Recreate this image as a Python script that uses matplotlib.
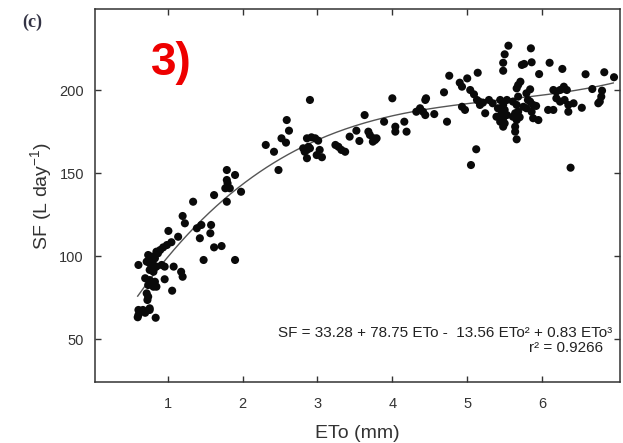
"""Sap flow vs reference evapotranspiration, panel (c)."""

import matplotlib

matplotlib.use("Agg")

import matplotlib.pyplot as plt
import numpy as np

eto_low = [
    1.79, 1.90, 1.79, 1.80, 1.77, 1.83, 1.98, 1.62, 1.79, 1.34, 1.20, 1.23, 1.39, 1.45,
    1.58, 1.57, 1.01, 1.14, 1.43, 1.05, 0.99, 0.94, 0.90, 0.85, 0.87, 0.74, 0.79, 0.83,
    1.62, 1.72, 0.61, 0.72, 0.76, 0.81, 0.85, 0.92, 0.96, 1.08, 1.48, 1.90, 0.76, 0.81,
    1.18, 1.20, 0.96, 0.70, 0.76, 0.83, 0.74, 0.81, 0.85, 1.06, 0.72, 0.74, 0.73, 0.61,
    0.67, 0.76, 0.61, 0.70, 0.76, 0.84, 0.60,
]
sf_low = [
    151.8, 148.8, 145.8, 143.8, 140.8, 140.8, 138.7, 136.7, 132.7, 132.7, 124.1, 119.7,
    116.7, 118.7, 118.7, 113.7, 115.1, 111.6, 110.7, 108.3, 106.6, 105.2, 103.6, 102.6,
    101.6, 100.6, 99.6, 98.6, 105.2, 106.0, 94.6, 96.6, 95.6, 94.6, 93.6, 94.6, 93.6,
    93.6, 97.6, 97.6, 91.6, 90.5, 90.5, 87.5, 86.0, 86.6, 85.5, 84.5, 82.5, 81.5, 81.5,
    79.1, 77.5, 75.5, 73.5, 67.5, 67.5, 67.5, 64.5, 65.8, 68.5, 62.8, 63.1,
]
eto_mid = [
    2.48, 2.31, 2.42, 2.59, 2.62, 2.52, 2.58, 2.90, 2.81, 2.86, 2.90, 2.83, 2.88, 2.86,
    2.92, 2.97, 3.01, 3.03, 2.99, 3.06, 2.86, 3.24, 3.28, 3.32, 3.37, 3.43, 3.52, 3.56,
    3.63, 3.68, 3.70, 3.75, 3.77, 3.79, 3.74, 3.89, 4.04, 4.04, 4.00,
]
sf_mid = [
    151.8, 166.9, 162.8, 181.9, 175.5, 170.9, 168.3, 194.0, 164.9, 163.9, 164.9, 162.8,
    165.8, 170.9, 171.5, 170.9, 169.5, 163.9, 160.8, 159.5, 158.9, 166.9, 165.8, 163.9,
    162.8, 171.9, 175.5, 169.3, 184.9, 174.9, 172.9, 170.9, 169.9, 170.9, 168.9, 180.9,
    177.9, 174.9, 195.0,
]
eto_high = [
    5.55, 5.50, 5.48, 5.48, 5.85, 5.86, 5.73, 5.76, 6.10, 6.27, 5.96, 6.58, 6.83, 6.96,
    4.76, 5.14, 5.00, 4.90, 4.93, 4.69, 5.04, 5.09, 5.13, 5.16, 5.68, 5.71, 5.66, 5.84,
    5.79, 5.81, 5.84, 6.15, 6.19, 6.24, 6.29, 6.33, 6.67, 6.80, 6.79, 6.77, 5.29, 5.34,
    5.17, 5.21, 5.44, 5.53, 5.48, 5.41, 5.50, 5.46, 5.53, 5.39, 5.48, 5.44, 5.50, 5.48,
    5.61, 5.66, 5.68, 5.64, 5.61, 5.70, 5.66, 5.64, 5.75, 5.79, 5.88, 5.92, 5.86, 5.88,
    5.95, 6.08, 6.15, 6.19, 6.24, 6.30, 6.35, 6.42, 6.35, 6.53, 6.75, 4.32, 4.37, 4.41,
    4.44, 4.44, 4.45, 4.56, 4.16, 4.19, 4.73, 4.93, 4.97, 5.24, 5.64, 5.66, 5.12, 5.05,
    6.38, 5.68,
]
sf_high = [
    226.7, 221.5, 216.4, 211.6, 225.1, 216.7, 215.1, 215.7, 216.4, 212.7, 209.6, 209.5,
    210.7, 207.7, 208.6, 210.4, 207.0, 204.4, 202.0, 198.6, 200.0, 197.4, 194.0, 193.0,
    203.0, 205.0, 201.0, 200.4, 198.0, 194.0, 193.0, 200.0, 199.0, 200.0, 202.0, 200.0,
    200.6, 199.6, 196.0, 193.0, 194.0, 192.0, 191.0, 192.4, 194.0, 194.0, 191.0, 189.0,
    188.0, 186.0, 184.9, 183.9, 183.0, 180.9, 179.9, 177.9, 193.0, 191.0, 186.9, 186.0,
    183.9, 183.6, 181.9, 177.9, 189.9, 189.0, 191.0, 190.4, 186.9, 183.0, 181.9, 188.0,
    188.0, 195.0, 193.0, 194.0, 191.0, 192.0, 186.9, 189.3, 192.0, 186.9, 189.0, 186.9,
    184.9, 194.0, 195.0, 185.5, 180.9, 174.9, 180.9, 189.9, 188.0, 186.0, 174.9, 170.3,
    164.3, 154.8, 153.2, 196.0,
]

# fitted cubic from the annotation (constant, ETo, ETo^2, ETo^3) and its drawn range
fit_coef = [33.28, 78.75, -13.56, 0.83]
fit_range = [0.6, 6.95]

eto = np.array(eto_low + eto_mid + eto_high)
sf = np.array(sf_low + sf_mid + sf_high)

plt.rcParams["font.family"] = ["Liberation Sans", "DejaVu Sans"]
plt.rcParams["mathtext.fontset"] = "custom"
plt.rcParams["mathtext.rm"] = "Liberation Sans"
plt.rcParams["mathtext.it"] = "Liberation Sans:italic"

fig = plt.figure(figsize=(6.23, 4.43), dpi=100)
ax = fig.add_axes([0.1525, 0.1377, 0.8427, 0.842])

ax.scatter(eto, sf, s=34, color="#0a0a0a", edgecolors="none", zorder=3)

x_fit = np.linspace(fit_range[0], fit_range[1], 200)
y_fit = np.polyval(fit_coef[::-1], x_fit)
ax.plot(x_fit, y_fit, color="#555555", linewidth=1.0, zorder=2)

ax.set_xlim(0.03, 7.04)
ax.set_ylim(24.1, 248.8)
ax.set_xticks([1, 2, 3, 4, 5, 6])
ax.set_yticks([50, 100, 150, 200])
ax.tick_params(direction="in", top=True, right=True, length=4, width=1,
               colors="#333333", labelsize=10.5, labelcolor="#333333")
ax.tick_params(axis="x", pad=11)
ax.tick_params(axis="y", pad=8)
for spine in ax.spines.values():
    spine.set_color("#333333")
    spine.set_linewidth(1.1)

ax.set_xlabel("ETo (mm)", fontsize=14, color="#333333", labelpad=10)
ax.set_ylabel(r"SF (L day$^{-1}$)", fontsize=14, color="#333333", labelpad=4)

ax.text(0.985, 0.131, "SF = 33.28 + 78.75 ETo -  13.56 ETo² + 0.83 ETo³",
        transform=ax.transAxes, ha="right", va="center", fontsize=11, color="#222222")
ax.text(0.968, 0.091, "r² = 0.9266", transform=ax.transAxes, ha="right", va="center",
        fontsize=11, color="#222222")

fig.text(0.036, 0.95, "(c)", fontsize=13, fontweight="bold", family="Liberation Serif",
         color="#333344", va="center")
fig.text(0.243, 0.858, "3)", fontsize=33, fontweight="bold", color="#ee0000", va="center")

fig.savefig("out.png", dpi=100)
plt.close(fig)
